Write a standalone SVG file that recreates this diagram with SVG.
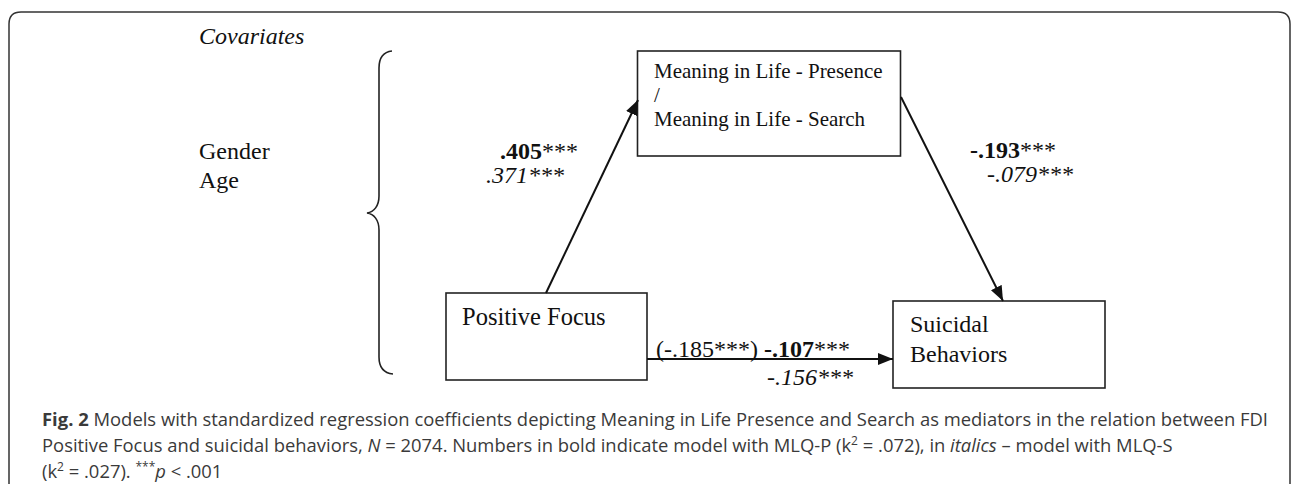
<svg xmlns="http://www.w3.org/2000/svg" width="1292" height="484" viewBox="0 0 1292 484">
<style>
.serif{font-family:"Liberation Serif","Times New Roman",serif;fill:#111;font-size:24px}
.box{fill:#fff;stroke:#222;stroke-width:1.6}
.conn{stroke:#111;stroke-width:2;fill:none}
.cap{font-family:"Open Sans","Noto Sans",sans-serif;fill:#3a3a3a;font-size:18.4px}
.b{font-weight:bold}
.i{font-style:italic}
</style>
<defs>
<marker id="ah" markerUnits="userSpaceOnUse" markerWidth="16" markerHeight="12" refX="15" refY="6" orient="auto">
<path d="M0,0 L15,6 L0,12 Z" fill="#111"/>
</marker>
</defs>
<rect width="1292" height="484" fill="#fff"/>
<path d="M9,490 V24 Q9,12 21,12 H1278 Q1290,12 1290,24 V490" fill="none" stroke="#333" stroke-width="1.5"/>

<g id="covariates">
<text class="serif i" x="199" y="44">Covariates</text>
<text class="serif" x="199" y="159">Gender</text>
<text class="serif" x="199" y="188">Age</text>
<path d="M392,51 C383,52 379,58 379,68 L379,196 C379,206 374,212 367,213 C374,214 379,220 379,230 L379,357 C379,367 383,373 393,374" fill="none" stroke="#222" stroke-width="1.6"/>
</g>

<g id="meaning">
<rect class="box" x="637.5" y="51" width="263" height="105"/>
<text class="serif" style="font-size:21px" x="654" y="78">Meaning in Life - Presence</text>
<text class="serif" style="font-size:21px" x="654" y="102">/</text>
<text class="serif" style="font-size:21px" x="654" y="126">Meaning in Life - Search</text>
</g>

<g id="positive-focus">
<rect class="box" x="446" y="293" width="201" height="87"/>
<text class="serif" style="font-size:24.5px" x="462" y="325">Positive Focus</text>
</g>

<g id="suicidal">
<rect class="box" x="893" y="301" width="212" height="87"/>
<text class="serif" x="910" y="332">Suicidal</text>
<text class="serif" x="910" y="362">Behaviors</text>
</g>

<g id="connectors">
<line class="conn" x1="546" y1="293" x2="638" y2="100" marker-end="url(#ah)"/>
<line class="conn" x1="901" y1="97" x2="1003" y2="301" marker-end="url(#ah)"/>
<line class="conn" x1="647" y1="359" x2="893" y2="359" marker-end="url(#ah)"/>
</g>

<g id="labels">
<text class="serif" x="500" y="159"><tspan class="b">.405</tspan>***</text>
<text class="serif i" x="486" y="183">.371***</text>
<text class="serif" x="970" y="158"><tspan class="b">-.193</tspan>***</text>
<text class="serif i" x="987" y="182">-.079***</text>
<text class="serif" x="656" y="357">(-.185***) <tspan class="b">-.107</tspan>***</text>
<text class="serif i" x="767" y="385">-.156***</text>
</g>

<g id="caption">
<text class="cap" x="42" y="426" textLength="1226" lengthAdjust="spacingAndGlyphs"><tspan class="b">Fig. 2</tspan> Models with standardized regression coefficients depicting Meaning in Life Presence and Search as mediators in the relation between FDI</text>
<text class="cap" x="42" y="452">Positive Focus and suicidal behaviors, <tspan class="i">N</tspan> = 2074. Numbers in bold indicate model with MLQ-P (k<tspan dy="-7" font-size="12">2</tspan><tspan dy="7"> = .072), in </tspan><tspan class="i">italics</tspan> – model with MLQ-S</text>
<text class="cap" x="42" y="478">(k<tspan dy="-7" font-size="12">2</tspan><tspan dy="7"> = .027). </tspan><tspan dy="-7" font-size="12">***</tspan><tspan dy="7" class="i">p</tspan> &lt; .001</text>
</g>
</svg>
